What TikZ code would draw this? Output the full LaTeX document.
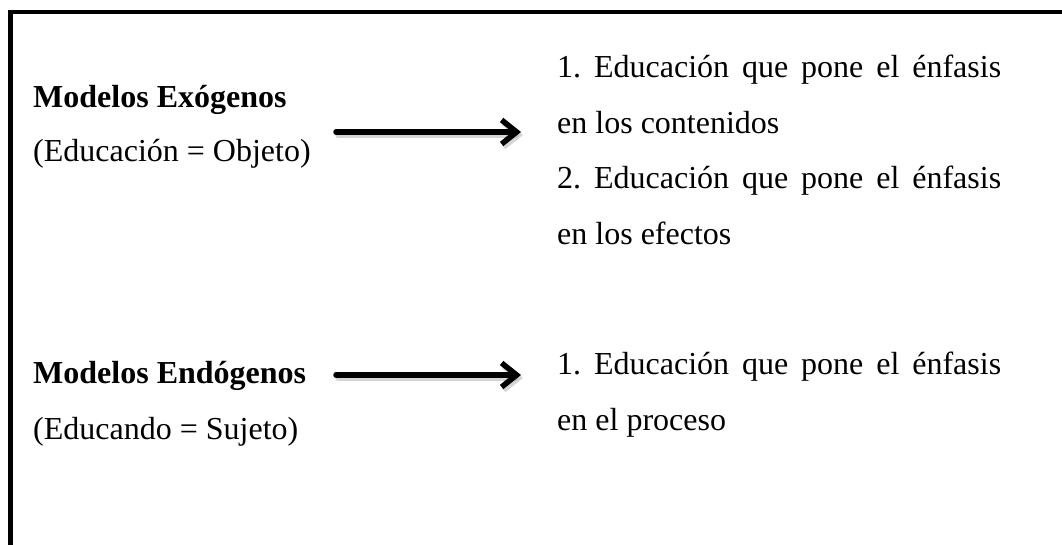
\documentclass[tikz,border=0pt]{standalone}
\usepackage{fontspec}
\setmainfont{Liberation Serif}
\usetikzlibrary{arrows.meta,positioning}
\frenchspacing

\tikzset{
  txt/.style={anchor=base west,inner sep=0pt,font=\fontsize{32bp}{38bp}\selectfont},
  hd/.style={txt,font=\fontsize{32bp}{38bp}\selectfont\bfseries},
  flecha/.style={-{Straight Barb[length=15bp,width=24bp]},line width=5.5bp,line cap=round},
  sombra/.style={flecha,draw=black!30,opacity=.55},
}
\newcommand{\lineaj}[1]{\makebox[444bp][s]{#1}}

\begin{document}
\begin{tikzpicture}[line join=miter]
\useasboundingbox (0bp,0bp) rectangle (1062bp,545bp);
% marco (solo arriba e izquierda)
\draw [line width=4.5bp] (10.5bp,0bp) -- (10.5bp,533bp) -- (1062bp,533bp);

% modelos exogenos
\node [hd] (exo) at (33bp,437bp) {Modelos Exógenos};
\node [txt] (exoobj) at (33bp,383bp) {(Educación = Objeto)};
\node [txt] (exo1a) at (557bp,467bp) {\lineaj{1. Educación que pone el énfasis}};
\node [txt] (exo1b) at (557bp,411bp) {en los contenidos};
\node [txt] (exo2a) at (557bp,356bp) {\lineaj{2. Educación que pone el énfasis}};
\node [txt] (exo2b) at (557bp,300bp) {en los efectos};

% modelos endogenos
\node [hd] (endo) at (33bp,161bp) {Modelos Endógenos};
\node [txt] (endosuj) at (33bp,105bp) {(Educando = Sujeto)};
\node [txt] (endo1a) at (557bp,170bp) {\lineaj{1. Educación que pone el énfasis}};
\node [txt] (endo1b) at (557bp,114bp) {en el proceso};

% flechas
\coordinate (f1a) at (336bp,413bp);
\coordinate (f1b) at (521bp,413bp);
\coordinate (f2a) at (336bp,170bp);
\coordinate (f2b) at (521bp,170bp);
\draw [sombra] ([shift={(2bp,-3bp)}]f1a) -- ([shift={(2bp,-3bp)}]f1b);
\draw [sombra] ([shift={(2bp,-3bp)}]f2a) -- ([shift={(2bp,-3bp)}]f2b);
\draw [flecha] (f1a) -- (f1b);
\draw [flecha] (f2a) -- (f2b);
\end{tikzpicture}
\end{document}
